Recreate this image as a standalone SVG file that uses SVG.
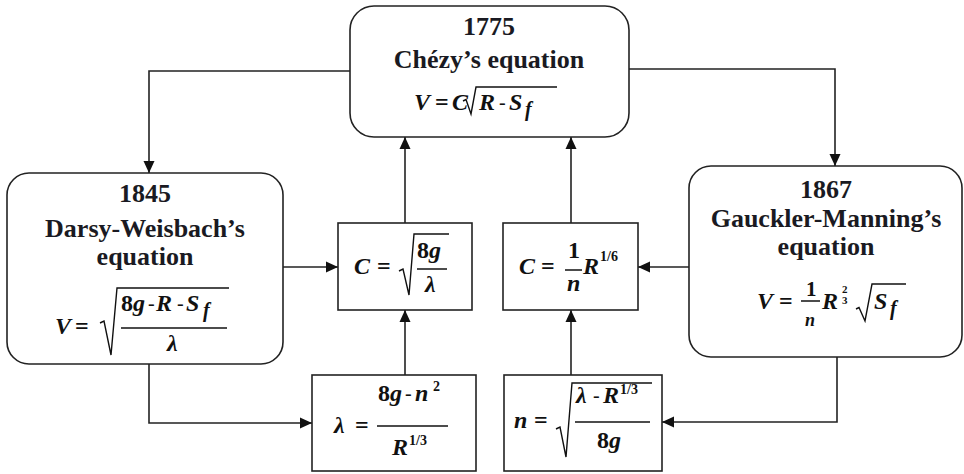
<svg xmlns="http://www.w3.org/2000/svg" width="964" height="474" viewBox="0 0 964 474">
  <style>
    .box { fill: #ffffff; stroke: #222222; stroke-width: 1.6; }
    .wire { fill: none; stroke: #222222; stroke-width: 1.6; }
    .rad { fill: none; stroke: #111111; stroke-width: 1.4; stroke-linejoin: miter; }
    .bar { stroke: #111111; stroke-width: 1.5; }
    .title { font-family: "Liberation Serif", "Times New Roman", serif; font-weight: bold; font-size: 26px; fill: #1a1a22; text-anchor: middle; }
    .v { font-family: "Liberation Serif", "Times New Roman", serif; font-weight: bold; font-style: italic; font-size: 24px; fill: #111111; }
    .d { font-family: "Liberation Serif", "Times New Roman", serif; font-weight: bold; font-size: 24px; fill: #111111; }
    .eq { font-family: "Liberation Serif", "Times New Roman", serif; font-weight: bold; font-size: 24px; fill: #111111; }
    .op { font-family: "Liberation Serif", "Times New Roman", serif; font-size: 20px; fill: #111111; }
    .sub { font-size: 20px; }
    .sup { font-family: "Liberation Serif", "Times New Roman", serif; font-weight: bold; font-size: 14px; fill: #111111; }
    .tiny { font-family: "Liberation Serif", "Times New Roman", serif; font-weight: bold; font-size: 11px; fill: #111111; }
  </style>
  <defs>
    <marker id="ah" viewBox="0 0 12 12" refX="12" refY="6" markerWidth="12" markerHeight="12" markerUnits="userSpaceOnUse" orient="auto">
      <path d="M0,0.5 L12,6 L0,11.5 z" fill="#111111"/>
    </marker>
  </defs>

  <rect width="964" height="474" fill="#ffffff"/>

  <!-- connectors -->
  <g id="connectors" class="wire">
    <path d="M350,71 H149 V173" marker-end="url(#ah)"/>
    <path d="M629,69 H835 V166" marker-end="url(#ah)"/>
    <path d="M283,267 H338" marker-end="url(#ah)"/>
    <path d="M689,267 H638" marker-end="url(#ah)"/>
    <path d="M405,223 V137" marker-end="url(#ah)"/>
    <path d="M571,223 V137" marker-end="url(#ah)"/>
    <path d="M405,375 V310" marker-end="url(#ah)"/>
    <path d="M571,375 V310" marker-end="url(#ah)"/>
    <path d="M149,364 V423 H312" marker-end="url(#ah)"/>
    <path d="M837,357 V422 H662" marker-end="url(#ah)"/>
  </g>

  <!-- Chézy, 1775 -->
  <g id="chezy">
    <rect class="box" x="350" y="6" width="279" height="131" rx="24"/>
    <text class="title" x="489" y="35">1775</text>
    <text class="title" x="489" y="68">Chézy’s equation</text>
    <text class="v" x="414" y="110">V</text>
    <text class="eq" x="435" y="110">=</text>
    <text class="v" x="452" y="110">C</text>
    <path class="rad" d="M463,101 L466,99.5 L471,114 L476,87 H557"/>
    <text class="v" x="479" y="110">R</text>
    <text class="op" x="499" y="109">-</text>
    <text class="v" x="509" y="110">S</text>
    <text class="v sub" x="525" y="116">f</text>
  </g>

  <!-- Darcy-Weisbach, 1845 -->
  <g id="darcy">
    <rect class="box" x="7" y="173" width="276" height="191" rx="22"/>
    <text class="title" x="145" y="202">1845</text>
    <text class="title" x="145" y="237">Darsy-Weisbach’s</text>
    <text class="title" x="145" y="265">equation</text>
    <text class="v" x="55" y="334">V</text>
    <text class="eq" x="75" y="334">=</text>
    <path class="rad" d="M100,323 L104,321 L111,355 L117,288 H229"/>
    <text class="d" x="121" y="311">8<tspan class="v">g</tspan></text>
    <text class="op" x="148" y="310">-</text>
    <text class="v" x="156" y="311">R</text>
    <text class="op" x="177" y="310">-</text>
    <text class="v" x="186" y="311">S</text>
    <text class="v sub" x="203" y="317">f</text>
    <line class="bar" x1="121" y1="328" x2="227" y2="328"/>
    <text class="v" x="167" y="351">λ</text>
  </g>

  <!-- Gauckler-Manning, 1867 -->
  <g id="manning">
    <rect class="box" x="689" y="166" width="273" height="191" rx="22"/>
    <text class="title" x="826" y="198">1867</text>
    <text class="title" x="826" y="227">Gauckler-Manning’s</text>
    <text class="title" x="826" y="255">equation</text>
    <text class="v" x="757" y="309">V</text>
    <text class="eq" x="779" y="309">=</text>
    <text class="d" x="806" y="296" style="font-size:21px">1</text>
    <line class="bar" x1="801" y1="301" x2="820" y2="301"/>
    <text class="v" x="805" y="326" style="font-size:18px">n</text>
    <text class="v" x="822" y="309">R</text>
    <text class="tiny"><tspan x="842" y="293">2</tspan><tspan x="842" y="304">3</tspan></text>
    <path class="rad" d="M856,309 L859,307.5 L865,321 L872,284 H906"/>
    <text class="v" x="874" y="309">S</text>
    <text class="v sub" x="890" y="315">f</text>
  </g>

  <!-- Chézy coefficient from λ -->
  <g id="c-lambda">
    <rect class="box" x="338" y="223" width="134" height="87"/>
    <text class="v" x="354" y="274">C</text>
    <text class="eq" x="377" y="274">=</text>
    <path class="rad" d="M399,271 L403,269 L409,295 L414,234 H449"/>
    <text class="d" x="417" y="258">8<tspan class="v">g</tspan></text>
    <line class="bar" x1="417" y1="269" x2="447" y2="269"/>
    <text class="v" x="425" y="292">λ</text>
  </g>

  <!-- Chézy coefficient from n -->
  <g id="c-n">
    <rect class="box" x="503" y="223" width="135" height="87"/>
    <text class="v" x="519" y="274">C</text>
    <text class="eq" x="541" y="274">=</text>
    <text class="d" x="568" y="258">1</text>
    <line class="bar" x1="565" y1="270" x2="582" y2="270"/>
    <text class="v" x="567" y="291">n</text>
    <text class="v" x="583" y="274">R</text>
    <text class="sup" x="600" y="261">1/6</text>
  </g>

  <!-- λ from n -->
  <g id="lambda-n">
    <rect class="box" x="312" y="375" width="164" height="96"/>
    <text class="v" x="334" y="433">λ</text>
    <text class="eq" x="355" y="433">=</text>
    <text class="d" x="378" y="401">8<tspan class="v">g</tspan></text>
    <text class="op" x="405" y="400">-</text>
    <text class="v" x="415" y="401">n</text>
    <text class="sup" x="433" y="391">2</text>
    <line class="bar" x1="377" y1="426" x2="448" y2="426"/>
    <text class="v" x="392" y="455">R</text>
    <text class="sup" x="409" y="445">1/3</text>
  </g>

  <!-- n from λ -->
  <g id="n-lambda">
    <rect class="box" x="504" y="375" width="158" height="96"/>
    <text class="v" x="514" y="428">n</text>
    <text class="eq" x="534" y="428">=</text>
    <path class="rad" d="M556,429 L560,427 L566,457 L572,383 H652"/>
    <text class="v" x="576" y="403">λ</text>
    <text class="op" x="593" y="402">-</text>
    <text class="v" x="603" y="403">R</text>
    <text class="sup" x="620" y="394">1/3</text>
    <line class="bar" x1="575" y1="422" x2="650" y2="422"/>
    <text class="d" x="597" y="448">8<tspan class="v">g</tspan></text>
  </g>
</svg>
